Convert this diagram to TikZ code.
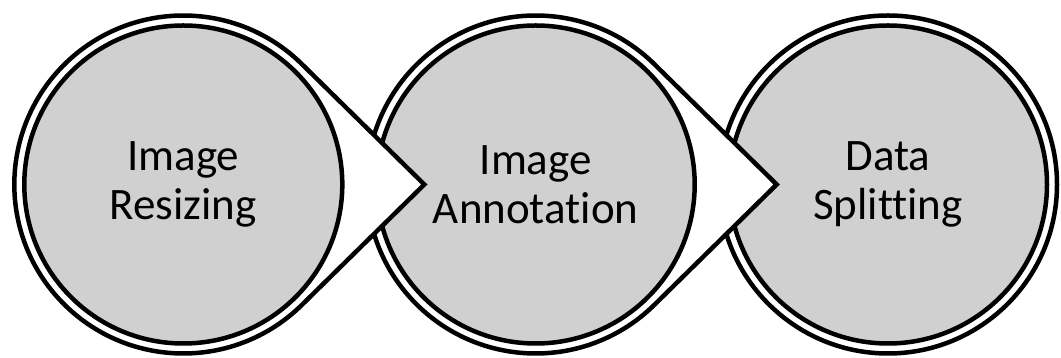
\documentclass[tikz,border=0pt]{standalone}
\usepackage{fontspec}
\setmainfont{Carlito}[Ligatures=NoCommon]
\usetikzlibrary{calc}
\definecolor{stepgrey}{RGB}{208,208,208}
\tikzset{
  outerring/.style={draw=black, fill=white, line width=4.5pt, line join=miter},
  stepcircle/.style={circle, draw=black, fill=stepgrey, line width=4.5pt, inner sep=0pt,
    minimum size=318pt, align=center, text=black,
    font=\fontsize{45}{49}\selectfont},
}
\newcommand{\teardrop}[1]{%
  \draw[outerring] ($(#1)+(45.5:169)$) arc[start angle=45.5, end angle=314.5, radius=169]
    -- ($(#1)+(241,0)$) -- cycle;}
\begin{document}
\begin{tikzpicture}[x=1pt,y=1pt]
\useasboundingbox (0,0) rectangle (1061,358);
\coordinate (p1) at (183.3,173.5);
\coordinate (p2) at (535.7,173.5);
\coordinate (p3) at (888.0,173.5);
\draw[outerring] (p3) circle[radius=169];
\node[stepcircle] (c3) at (p3) {Data\\Splitting};
\teardrop{p2}
\node[stepcircle] (c2) at (p2) {Image\\Annotation};
\teardrop{p1}
\node[stepcircle] (c1) at (p1) {Image\\Resizing};
\end{tikzpicture}
\end{document}
